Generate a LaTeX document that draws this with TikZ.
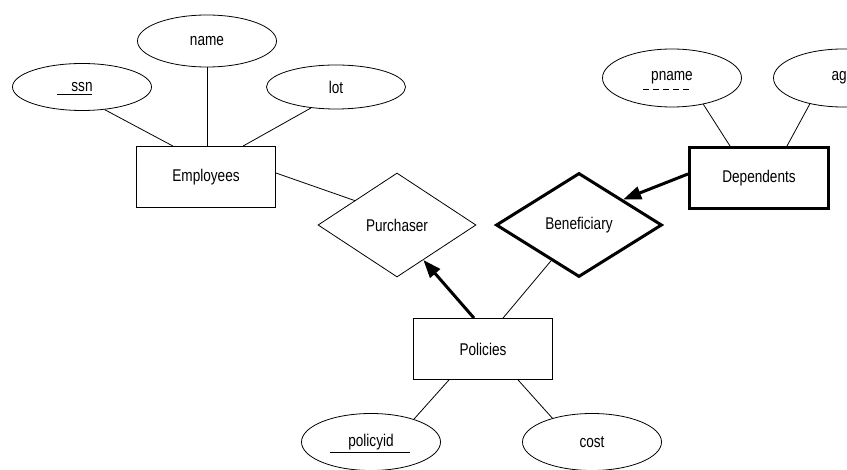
\documentclass[tikz,border=0pt]{standalone}
\usepackage{fontspec}
\setmainfont{Liberation Sans}[FakeStretch=0.8]
\usetikzlibrary{arrows.meta,positioning,shapes.geometric,calc}

\tikzset{
	attr/.style={draw, ellipse, line width=0.8pt, inner sep=0pt, minimum width=139pt},
	entity/.style={draw, rectangle, line width=0.8pt, minimum width=139pt, minimum height=61pt},
	weakentity/.style={entity, line width=3pt},
	rel/.style={draw, diamond, line width=0.8pt, inner sep=0pt, minimum width=158pt, minimum height=104pt},
	weakrel/.style={rel, line width=3pt, minimum width=166pt},
	link/.style={line width=0.8pt},
	keylink/.style={line width=3pt, -{Triangle[length=18pt,width=13pt]}}
}

\begin{document}
\begin{tikzpicture}[x=1pt, y=-1pt, font=\fontsize{17}{20}\selectfont]
			\useasboundingbox (0,0) rectangle (847,470);
			\clip (0,0) rectangle (847,470);
			
			% Entities
			\node[entity] (emp) at (206,177) {Employees};
			\node[entity] (pol) at (483,349) {Policies};
			\node[weakentity] (dep) at (759,178) {Dependents};
			
			% Relationships
			\node[rel] (purch) at (397,225) {Purchaser};
			\node[weakrel] (ben) at (579,225) {Beneficiary};
			
			% Attributes
			\foreach \nm/\txt/\x/\y/\h in {
				ssn/ssn/82/87/47,
				ename/name/207/41/52,
				lot/lot/336/87/44,
				pname/pname/672/78/58,
				age/age/843/78/58,
				pid/policyid/371/442/57,
				cost/cost/592/442/57} {
				\node[attr, minimum height=\h pt] (\nm) at (\x,\y) {\txt};
			}
			
			% Keys and partial key
			\draw[link] ([shift={(-25,7)}]ssn.center) -- ++(35,0);
			\draw[link] ([shift={(-41,10)}]pid.center) -- ++(80,0);
			\draw[link, dash pattern=on 6pt off 4pt] ([shift={(-29,11)}]pname.center) -- ++(48,0);
			
			% Attribute links
			\draw[link] (ssn.-45) -- ([xshift=-33pt]emp.north);
			\draw[link] (ename.south) -- (ename.south |- emp.north);
			\draw[link] (lot.220) -- ([xshift=37pt]emp.north);
			\draw[link] (pname.-40) -- ([xshift=-29pt]dep.north);
			\draw[link] (age.218) -- ([xshift=28pt]dep.north);
			\draw[link] ([xshift=-34pt]pol.south) -- (pid.28);
			\draw[link] ([xshift=35pt]pol.south) -- (cost.149);
			
			% Relationship links
			\draw[link] ([yshift=4pt]emp.east) -- (purch.150);
			\draw[keylink] ([xshift=-9pt]pol.north) -- (purch.-53);
			\draw[link] ([xshift=20pt]pol.north) -- (ben.232);
			\draw[keylink] ([yshift=4pt]dep.west) -- (ben.30);
		\end{tikzpicture}
\end{document}
